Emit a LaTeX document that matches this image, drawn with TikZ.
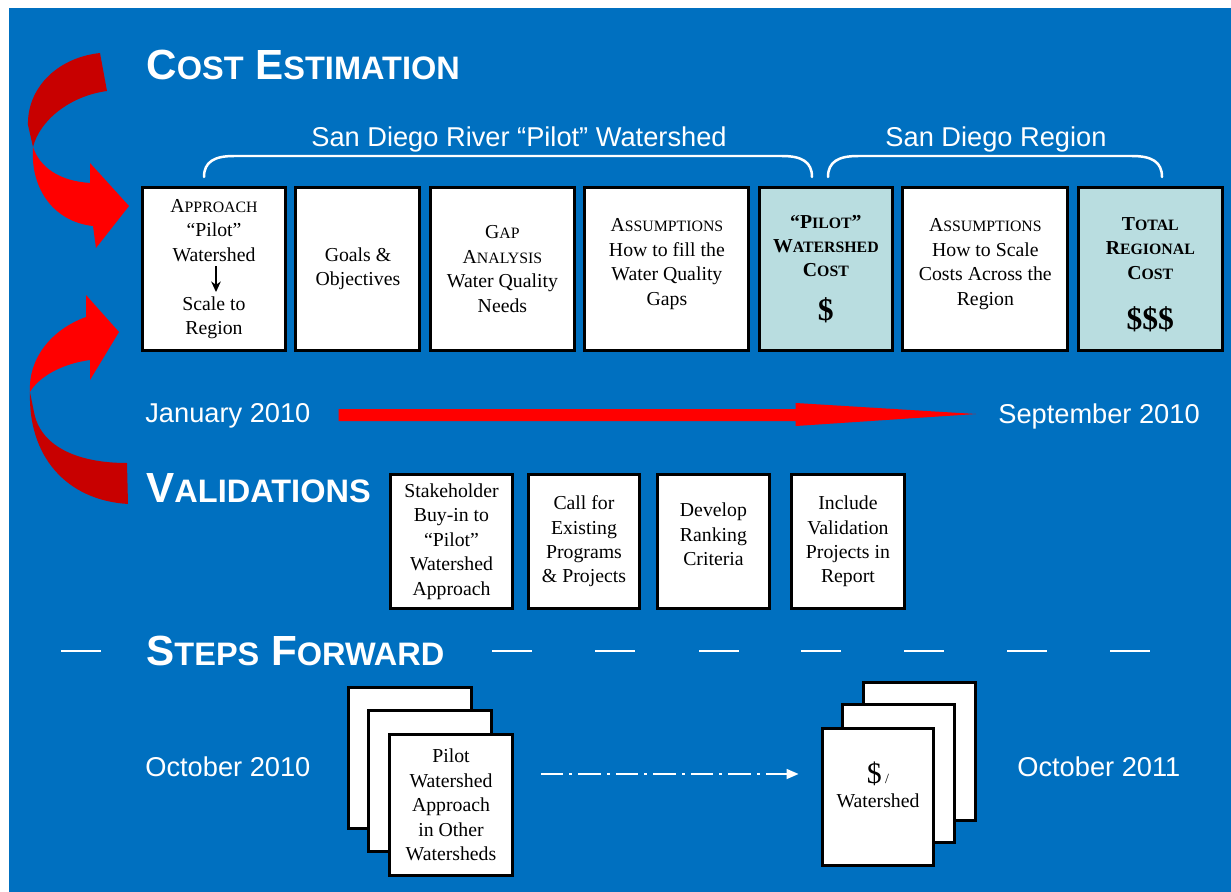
\documentclass[tikz,border=0pt]{standalone}
\usepackage{fontspec}
\setmainfont{Liberation Serif}
\setsansfont{Liberation Sans}
\usetikzlibrary{positioning, calc, arrows.meta}

\definecolor{slideblue}{RGB}{0,112,192}
\definecolor{costteal}{RGB}{185,221,224}
\definecolor{ribbonred}{RGB}{255,0,0}
\definecolor{ribbondark}{RGB}{200,0,0}

% fake small capitals
\newcommand\lowcap[1]{{\fontsize{9}{13.9}\selectfont #1}}
\newcommand\headcap[1]{{\fontsize{18.5}{22}\selectfont #1}}

\begin{document}
\begin{tikzpicture}[x=0.02cm, y=-0.02cm, font=\sffamily]
		\tikzstyle{card}=[draw=black, line width=0.06cm, fill=white, inner sep=1pt, align=center, font=\rmfamily\fontsize{11.25}{13.9}\selectfont]
		\tikzstyle{costcard}=[card, fill=costteal, font=\rmfamily\bfseries\fontsize{11.25}{13.9}\selectfont]
		\tikzstyle{tall}=[minimum height=3.26cm]
		\tikzstyle{vcard}=[minimum height=2.68cm]
		\tikzstyle{bighead}=[text=white, font=\sffamily\bfseries\fontsize{24}{28}\selectfont, anchor=base west, inner sep=0pt]
		\tikzstyle{datetext}=[text=white, font=\sffamily\fontsize{15.5}{18}\selectfont, inner sep=0pt]
		\tikzstyle{brace}=[white, line width=0.05cm, line cap=round]
		
		% slide
		\fill[white] (0,0) rectangle (1231,892);
		\fill[slideblue] (9,8) rectangle (1231,892);
		
		% loop ribbons
		\fill[ribbondark] (100,53) .. controls (55,58) and (27,90) .. (28,125) -- (33,147) .. controls (40,120) and (70,96) .. (107,91) -- cycle;
		\fill[ribbonred] (33,147) .. controls (40,168) and (60,181) .. (90,183) -- (90,163) -- (129,206) -- (96,248) -- (93,226) .. controls (55,222) and (30,190) .. (33,147) -- cycle;
		\fill[ribbonred] (86,317) .. controls (50,330) and (28,360) .. (30,392) .. controls (38,378) and (60,364) .. (90,360) -- (90,380) -- (119,332) -- (86,295) -- cycle;
		\fill[ribbondark] (30,392) .. controls (28,455) and (65,500) .. (128,504) -- (127,463) .. controls (75,463) and (40,445) .. (34,412) -- cycle;
		
		\node[bighead] (cost) at (146,80) {C\headcap{OST} E\headcap{STIMATION}};
		\node[bighead] (valid) at (146,502) {V\headcap{ALIDATIONS}};
		\node[bighead] (steps) at (146,665) {S\headcap{TEPS} F\headcap{ORWARD}};
		
		% cost estimation row
		\node[card, tall, minimum width=2.86cm] (appr) at (214,269) {A\lowcap{PPROACH}\\“Pilot”\\Watershed\\\mbox{}\\Scale to\\Region};
		\node[card, tall, right=0.15cm of appr, minimum width=2.48cm] (goals) {Goals \&\\Objectives};
		\node[card, tall, right=0.15cm of goals, minimum width=2.88cm] (gap) {G\lowcap{AP}\\A\lowcap{NALYSIS}\\Water Quality\\Needs};
		\node[card, tall, right=0.15cm of gap, minimum width=3.28cm] (fill) {A\lowcap{SSUMPTIONS}\\How to fill the\\Water Quality\\Gaps\\[-6pt]\mbox{}};
		\node[costcard, tall, right=0.15cm of fill, minimum width=2.66cm] (pcost) {“P\lowcap{ILOT}”\\W\lowcap{ATERSHED}\\C\lowcap{OST}\\[11pt]{\fontsize{18}{20}\selectfont\$}};
		\node[card, tall, right=0.15cm of pcost, minimum width=3.30cm] (scale) {A\lowcap{SSUMPTIONS}\\How to Scale\\Costs Across the\\Region\\[-6pt]\mbox{}};
		\node[costcard, tall, right=0.15cm of scale, minimum width=2.88cm] (total) {\mbox{}\\T\lowcap{OTAL}\\R\lowcap{EGIONAL}\\C\lowcap{OST}\\[15pt]{\fontsize{18}{20}\selectfont\$\$\$}};
		
		\draw[-{Stealth[length=6pt, width=5.5pt]}, line width=0.6pt] ($(appr.center)+(2,-3)$) -- ($(appr.center)+(2,23)$);
		
		% braces over the row
		\draw[brace] (204,177) .. controls (204,162) and (214,156) .. (234,156) -- (782,156) .. controls (802,156) and (812,162) .. (812,177);
		\draw[brace] (828,177) .. controls (828,162) and (838,156) .. (858,156) -- (1132,156) .. controls (1152,156) and (1162,162) .. (1162,177);
		\node[datetext] (pilotshed) at (519,139) {San Diego River “Pilot” Watershed};
		\node[datetext] (region) at (996,139) {San Diego Region};
		
		% timeline
		\node[datetext, anchor=west] (jan) at (145,416) {January 2010};
		\node[datetext, anchor=west] (sep) at (998,416) {September 2010};
		\coordinate (tlstart) at ($(jan.east)+(28,-1)$);
		\coordinate (tltip) at ($(sep.west)+(-22,-2)$);
		\fill[ribbonred] ($(tlstart)+(0,-6)$) -- ($(tlstart)+(457,-6)$) -- ($(tlstart)+(457,-12)$) -- (tltip) -- ($(tlstart)+(457,11)$) -- ($(tlstart)+(457,6)$) -- ($(tlstart)+(0,6)$) -- cycle;
		
		% validations row
		\node[card, vcard, minimum width=2.44cm] (buyin) at (451.5,541.5) {Stakeholder\\Buy-in to\\“Pilot”\\Watershed\\Approach};
		\node[card, vcard, right=0.26cm of buyin, minimum width=2.22cm] (call) {Call for\\Existing\\Programs\\\& Projects};
		\node[card, vcard, right=0.30cm of call, minimum width=2.24cm] (rank) {Develop\\Ranking\\Criteria\\[-6pt]\mbox{}};
		\node[card, vcard, right=0.38cm of rank, minimum width=2.26cm] (report) {Include\\Validation\\Projects in\\Report};
		
		% steps forward
		\foreach \x in {61,492,595,699,801,904,1007,1110}
			\draw[white, line width=0.04cm] (\x,651) -- +(40,0);
		
		\node[card, minimum width=2.46cm, minimum height=2.84cm] (pilot1) at (410,758) {};
		\node[card, minimum width=2.46cm, minimum height=2.84cm] (pilot2) at (430,781) {};
		\node[card, minimum width=2.46cm, minimum height=2.84cm] (pilot3) at (451,805) {Pilot\\Watershed\\Approach\\in Other\\Watersheds};
		
		\node[card, minimum width=2.24cm, minimum height=2.76cm] (wshed1) at (919.5,751.5) {};
		\node[card, minimum width=2.24cm, minimum height=2.76cm] (wshed2) at (898.5,773.5) {};
		\node[card, minimum width=2.24cm, minimum height=2.76cm] (wshed3) at (878,797) {{\fontsize{17}{20}\selectfont\$}\,{\fontsize{8}{10}\selectfont/}\\Watershed\\\mbox{}};
		
		\draw[white, line width=0.035cm, dash pattern=on 0.45cm off 0.12cm on 0.06cm off 0.12cm, -{Triangle[length=0.24cm, width=0.2cm]}, shorten <=0.54cm, shorten >=0.44cm] ($(pilot3.east)+(0,-31)$) -- ($(wshed3.west)+(0,-23)$);
		
		\node[datetext, anchor=west] (oct10) at (145,767) {October 2010};
		\node[datetext, anchor=west] (oct11) at (1017,767) {October 2011};
\end{tikzpicture}
\end{document}
